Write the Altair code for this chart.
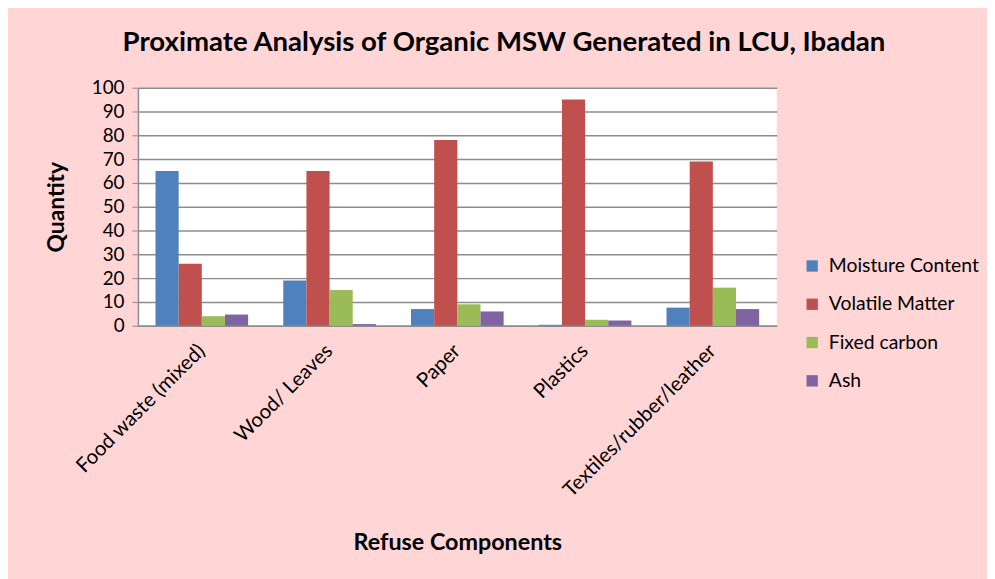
import altair as alt
import pandas as pd

categories = ["Food waste (mixed)", "Wood/ Leaves", "Paper", "Plastics", "Textiles/rubber/leather"]
series = ["Moisture Content", "Volatile Matter", "Fixed carbon", "Ash"]
moisture = [65, 19, 7, 0.4, 7.6]
volatile = [26, 65, 78, 95, 69]
fixed_carbon = [4, 15, 9, 2.5, 16]
ash = [4.7, 0.7, 6, 2.2, 7]
colors = ["#4F81BD", "#C0504D", "#9BBB59", "#8064A2"]

rows = []
for s, vals in zip(series, [moisture, volatile, fixed_carbon, ash]):
    for c, v in zip(categories, vals):
        rows.append({"cat": c, "series": s, "value": v})
df = pd.DataFrame(rows)

FONT = "Lato"

bars = alt.Chart(df).mark_bar().encode(
    x=alt.X("cat:N", sort=categories,
            scale=alt.Scale(paddingInner=0.275, paddingOuter=0.1375),
            axis=alt.Axis(title="Refuse Components", labelAngle=-45, labelAlign="right",
                          labelBaseline="middle", labelPadding=22, labelFontSize=20.5,
                          labelLimit=0,
                          labelFont=FONT, labelColor="#000", ticks=False,
                          domainColor="#8c8c8c", domainWidth=1.5,
                          titleFontSize=23.5, titleFont=FONT, titleFontWeight="bold",
                          titleColor="#000", titleX=322, titleY=219,
                          titleBaseline="middle")),
    xOffset=alt.XOffset("series:N", sort=series),
    y=alt.Y("value:Q", scale=alt.Scale(domain=[0, 100], nice=False),
            axis=alt.Axis(title="Quantity", values=list(range(0, 101, 10)),
                          labelFontSize=19, labelFont=FONT, labelColor="#000",
                          labelPadding=8, tickSize=6, tickColor="#8c8c8c",
                          domainColor="#8c8c8c", domainWidth=1.5,
                          gridColor="#8c8c8c", gridWidth=1.5,
                          titleFontSize=23, titleFont=FONT, titleFontWeight="bold",
                          titleColor="#000", titleX=-82, titleY=120, titleAngle=-90,
                          titleBaseline="middle")),
    color=alt.Color("series:N", sort=series,
                    scale=alt.Scale(domain=series, range=colors),
                    legend=alt.Legend(title=None, orient="none", legendX=670, legendY=170,
                                      symbolType="square", symbolSize=130,
                                      symbolStrokeWidth=0, labelFontSize=19.5,
                                      labelFont=FONT, labelColor="#000",
                                      rowPadding=17.6, labelOffset=7)),
).properties(
    width=644, height=240,
    title=alt.TitleParams("Proximate Analysis of Organic MSW Generated in LCU, Ibadan",
                          fontSize=27.8, font=FONT, fontWeight="bold", color="#000",
                          anchor="middle", dx=47, offset=22),
    background="#FFD5D5",
    padding={"left": 131, "top": 78, "right": 212, "bottom": 253},
    autosize=alt.AutoSizeParams(type="none"),
).configure_view(fill="white", stroke=None)

chart = bars
chart.save("out.html", embed_options={"renderer": "svg", "actions": False})
